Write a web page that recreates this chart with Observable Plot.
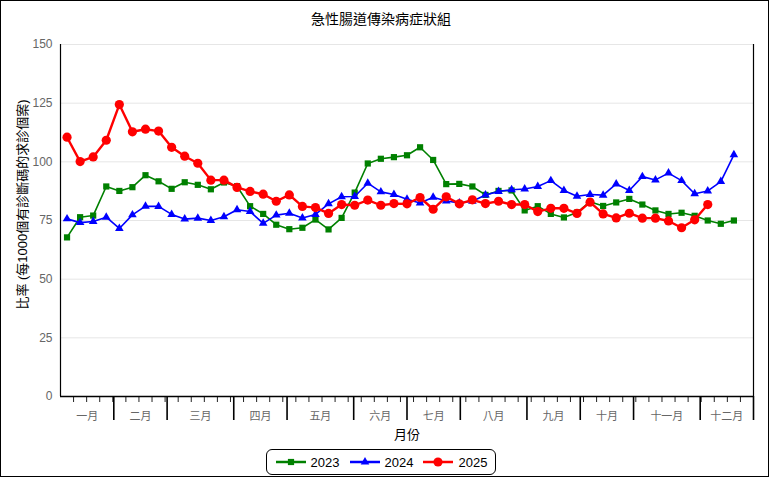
<!DOCTYPE html>
<html><head><meta charset="utf-8">
<script src="https://cdn.jsdelivr.net/npm/d3@7"></script>
<script src="https://cdn.jsdelivr.net/npm/@observablehq/plot@0.6"></script>
<style>
body{margin:0;background:#fff;font-family:"Liberation Sans","Noto Sans CJK TC",sans-serif;}
#frame{position:absolute;left:0;top:0;width:767px;height:475px;border:1px solid #000;pointer-events:none;}
#title{height:37px;line-height:37px;text-align:center;font-size:14px;color:#000;padding-right:8px;font-family:"Noto Sans CJK TC",sans-serif;}
#chart svg{display:block;}
#legendWrap{display:flex;justify-content:center;margin-top:2px;padding-right:8px;}
#legend{display:inline-flex;align-items:center;height:24px;border:1px solid #000;border-radius:6px;padding:0 8px 0 9px;font-size:13px;color:#000;}
.item{display:inline-flex;align-items:center;margin-right:10px;}
.item:last-child{margin-right:0;}
.item svg{margin-right:5px;}
</style></head>
<body>
<div id="frame"></div>
<div id="title">急性腸道傳染病症狀組</div>
<div id="chart"></div>
<div id="legendWrap"><div id="legend"></div></div>
<script>
const seriesNames = ["2023", "2024", "2025"];
const seriesColors = ["#008000", "#0000ff", "#ff0000"];
const val2023 = [67.8,76.4,77.1,89.5,87.6,89.2,94.3,91.7,88.5,91.3,90.2,88.3,91.2,89.6,81.1,77.8,73.2,71.3,71.9,75.4,71.2,76.1,86.9,99.3,101.3,102.0,102.8,106.2,100.8,90.5,90.6,89.5,85.9,87.6,87.8,79.3,81.1,77.8,76.3,78.4,83.0,81.2,82.7,84.2,81.8,79.3,77.8,78.3,77.0,75.0,73.6,75.0];
const val2024 = [75.7,74.1,74.6,76.4,71.6,77.4,81.1,81.0,77.6,75.6,76.0,75.0,76.6,79.6,78.8,73.8,77.3,78.1,76.1,77.6,82.1,85.1,85.2,90.9,87.2,86.1,84.1,82.5,84.9,83.3,82.5,83.2,85.9,87.4,88.1,88.4,89.5,92.0,87.8,85.3,86.1,85.8,90.6,87.8,93.7,92.3,95.2,92.0,86.4,87.6,91.6,103.0];
const val2025 = [110.5,100.1,102.1,109.2,124.4,112.8,113.9,113.1,106.2,102.4,99.4,92.2,92.2,89.1,87.4,86.2,83.2,85.9,81.0,80.5,78.0,81.8,81.5,83.7,81.5,82.2,82.1,84.8,79.8,85.1,82.1,83.8,82.2,83.2,81.8,81.8,78.8,80.2,80.2,78.0,82.8,77.8,76.1,78.1,76.0,76.0,74.8,71.9,75.3,81.8];
const monthLabels = ["一月","二月","三月","四月","五月","六月","七月","八月","九月","十月","十一月","十二月"];
const monthWeeks = [4,4,5,4,5,4,4,5,4,4,5,4];
const yTicks = [0,25,50,75,100,125,150];
const yTitle = "比率 (每1000個有診斷碼的求診個案)";
const xTitle = "月份";

const allVals = [val2023, val2024, val2025];
const rows = [];
allVals.forEach((vals, s) => vals.forEach((v, i) => rows.push({series: seriesNames[s], week: i + 1, x: i + 0.5, value: v})));

const slots = 53; // week slots on the x axis
const minorTicks = d3.range(1, 53);
const cum = d3.cumsum(monthWeeks);
const majorTicks = Array.from(cum, c => c * slots / 52);
const mids = majorTicks.map((t, i) => ((i === 0 ? 0 : majorTicks[i - 1]) + t) / 2);
const labelMap = new Map(mids.map((m, i) => [m, monthLabels[i]]));

const symbols = ["square", "triangle", "circle"];
const radii = [3.5, 3.2, 4.6];
const widths = [1.6, 1.6, 2.4];

const marks = [
  Plot.gridY(yTicks, {stroke: "#e6e6e6", strokeOpacity: 1}),
  Plot.axisY(yTicks, {tickSize: 0, tickPadding: 8, fontSize: 12, fill: "#666", label: null}),
  Plot.axisX(minorTicks, {tickSize: 6, tickFormat: () => "", label: null, stroke: "#222"}),
  Plot.axisX(majorTicks, {tickSize: 24, tickFormat: () => "", label: null, stroke: "#000", strokeWidth: 1.6}),
  Plot.axisX(mids, {tickSize: 0, tickPadding: 16, tickFormat: d => labelMap.get(d), fontSize: 11, fill: "#666", label: null}),
  Plot.ruleX([0, slots], {stroke: "#000", strokeWidth: 1.2}),
  Plot.ruleY([0], {stroke: "#000", strokeWidth: 1.6}),
  Plot.text([xTitle], {frameAnchor: "bottom", dy: 42, fontSize: 13, fill: "#000"}),
  Plot.text([yTitle], {frameAnchor: "left", textAnchor: "middle", rotate: -90, dx: -38, dy: -16, fontSize: 13, fill: "#000"})
];
seriesNames.forEach((name, s) => {
  const data = rows.filter(d => d.series === name);
  marks.push(Plot.line(data, {x: "x", y: "value", stroke: seriesColors[s], strokeWidth: widths[s]}));
  marks.push(Plot.dot(data, {x: "x", y: "value", symbol: () => symbols[s], r: radii[s], fill: seriesColors[s], stroke: "none"}));
});

const chart = Plot.plot({
  width: 770,
  height: 410,
  marginTop: 7,
  marginBottom: 51,
  marginLeft: 60,
  marginRight: 17,
  style: {fontFamily: '"Liberation Sans","Noto Sans CJK TC",sans-serif', background: "transparent"},
  x: {type: "linear", domain: [0, slots], axis: null, label: null},
  y: {type: "linear", domain: [0, 150], axis: null, label: null},
  symbol: {type: "identity"},
  marks
});
document.getElementById("chart").appendChild(chart);

const legend = document.getElementById("legend");
seriesNames.forEach((name, s) => {
  const item = document.createElement("span");
  item.className = "item";
  const ns = "http://www.w3.org/2000/svg";
  const sv = document.createElementNS(ns, "svg");
  sv.setAttribute("width", 30); sv.setAttribute("height", 12);
  const ln = document.createElementNS(ns, "line");
  ln.setAttribute("x1", 0); ln.setAttribute("x2", 30); ln.setAttribute("y1", 6); ln.setAttribute("y2", 6);
  ln.setAttribute("stroke", seriesColors[s]); ln.setAttribute("stroke-width", 2.5);
  sv.appendChild(ln);
  const p = document.createElementNS(ns, "path");
  p.setAttribute("d", d3.symbol(s === 0 ? d3.symbolSquare : s === 1 ? d3.symbolTriangle : d3.symbolCircle, Math.PI * radii[s] * radii[s])());
  p.setAttribute("transform", "translate(15,6)");
  p.setAttribute("fill", seriesColors[s]);
  sv.appendChild(p);
  item.appendChild(sv);
  const t = document.createElement("span");
  t.textContent = name;
  item.appendChild(t);
  legend.appendChild(item);
});
</script>
</body></html>
